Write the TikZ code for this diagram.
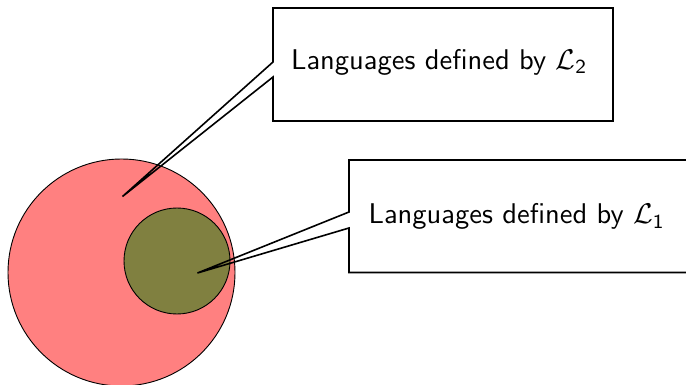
\documentclass[tikz,border=0pt]{standalone}
\usetikzlibrary{calc}
\definecolor{setred}{RGB}{255,128,128}
\definecolor{setolive}{RGB}{128,128,64}
\tikzset{
  setcircle/.style={draw=black, line width=0.9pt},
  callout/.style={draw=black, line width=1.6pt, line join=miter},
  label/.style={anchor=base west, inner sep=0pt, scale=2.85, transform shape,
    font=\fontsize{10}{12}\selectfont\sffamily}
}
\begin{document}
\begin{tikzpicture}[x=1pt, y=-1pt]
  \useasboundingbox (0,0) rectangle (686,385);

  % the two nested sets
  \node[setcircle, circle, fill=setred, minimum size=227pt, inner sep=0pt] (big) at (121.5,272.5) {};
  \node[setcircle, circle, fill=setolive, minimum size=106pt, inner sep=0pt] (small) at (177,261) {};

  % pointer tips inside the sets
  \coordinate (tipA) at (122.5,196.5);
  \coordinate (tipB) at (197.5,273);

  % callout for L2
  \draw[callout] (273,62) -- (273,8) -- (613,8) -- (613,121) -- (273,121) -- (273,77)
        -- (tipA) -- cycle;
  \node[label] (textA) at (290.5,69.5) {Languages defined by $\mathcal{L}_{\mathsf{2}}$};

  % callout for L1 (runs past the right edge)
  \draw[callout] (700,160) -- (349,160) -- (349,212) -- (tipB) -- (349,228)
        -- (349,272.5) -- (700,272.5);
  \node[label] (textB) at (368,224) {Languages defined by $\mathcal{L}_{\mathsf{1}}$};
\end{tikzpicture}
\end{document}
